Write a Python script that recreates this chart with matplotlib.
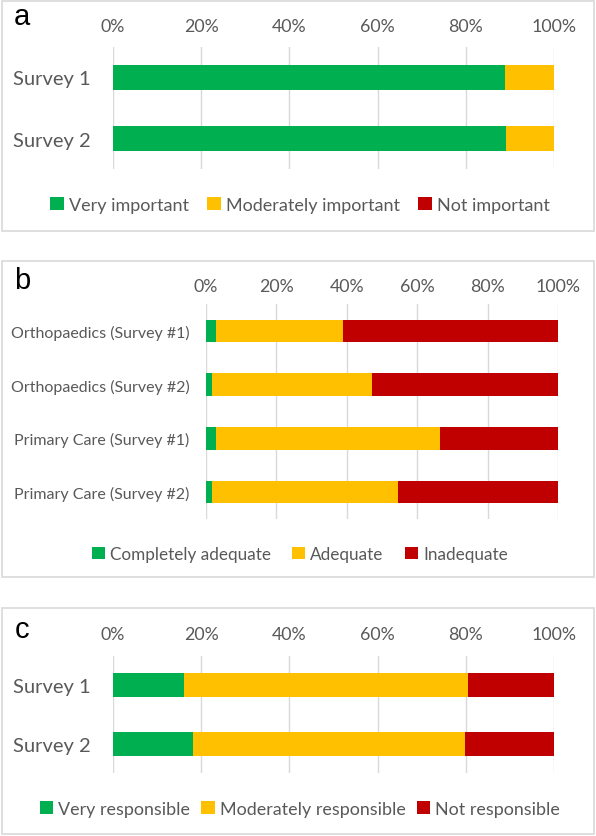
import matplotlib
matplotlib.use("Agg")
import matplotlib.pyplot as plt
from matplotlib.patches import Rectangle, Patch
import numpy as np

W, H = 596, 837
DPI = 100

# ---------------- data ----------------
a_categories = ["Survey 1", "Survey 2"]
a_series = ["Very important", "Moderately important", "Not important"]
a_very = [88.8, 89.1]
a_moderate = [11.2, 10.9]
a_not = [0.0, 0.0]

b_categories = ["Orthopaedics (Survey #1)", "Orthopaedics (Survey #2)",
                "Primary Care (Survey #1)", "Primary Care (Survey #2)"]
b_series = ["Completely adequate", "Adequate", "Inadequate"]
b_complete = [2.7, 1.7, 2.7, 1.7]
b_adequate = [36.1, 45.6, 63.9, 52.8]
b_inadequate = [61.2, 52.7, 33.4, 45.5]

c_categories = ["Survey 1", "Survey 2"]
c_series = ["Very responsible", "Moderately responsible", "Not responsible"]
c_very = [16.0, 18.2]
c_moderate = [64.6, 61.7]
c_not = [19.4, 20.1]

tick_values = [0, 20, 40, 60, 80, 100]
tick_labels = ["0%", "20%", "40%", "60%", "80%", "100%"]

colors = ["#00B050", "#FFC000", "#C00000"]
TEXT = "#595959"
GRID = "#D9D9D9"
FONT = ["Lato", "DejaVu Sans"]

fig = plt.figure(figsize=(W / DPI, H / DPI), dpi=DPI)


def px_axes(x0, y0, x1, y1):
    return fig.add_axes([x0 / W, 1 - y1 / H, (x1 - x0) / W, (y1 - y0) / H])


def box(x0, y0, x1, y1):
    fig.patches.append(Rectangle((x0 / W, 1 - y1 / H), (x1 - x0) / W, (y1 - y0) / H,
                                 transform=fig.transFigure, fill=False,
                                 edgecolor=GRID, linewidth=1.2))


def panel(ax, cats, series_vals, series_names, bar_h, ylab_size, ylab_pad, tick_pad,
          legend_y, legend_size, colspace, letter, letter_y):
    n = len(cats)
    y = np.arange(n)
    left = np.zeros(n)
    for vals, col, name in zip(series_vals, colors, series_names):
        ax.barh(y, vals, left=left, height=bar_h, color=col, label=name, zorder=3)
        left = left + np.array(vals)
    ax.set_xlim(0, 100)
    ax.set_ylim(n - 0.5, -0.5)
    ax.set_yticks(y)
    ax.set_yticklabels(cats)
    ax.set_xticks(tick_values)
    ax.set_xticklabels(tick_labels)
    ax.xaxis.tick_top()
    ax.tick_params(axis="x", length=0, pad=tick_pad, labelsize=12.8, labelcolor=TEXT)
    ax.tick_params(axis="y", length=0, pad=ylab_pad, labelsize=ylab_size, labelcolor=TEXT)
    for lab in ax.get_xticklabels() + ax.get_yticklabels():
        lab.set_family(FONT)
    for s in ax.spines.values():
        s.set_visible(False)
    ax.grid(axis="x", color=GRID, linewidth=1.0, zorder=0)
    ax.set_axisbelow(True)
    handles = [Patch(facecolor=c, edgecolor="none") for c in colors]
    fig.legend(handles, series_names, loc="center", ncol=3,
               bbox_to_anchor=(300 / W, 1 - legend_y / H), frameon=False,
               prop={"family": FONT, "size": legend_size}, labelcolor=TEXT,
               handlelength=0.75, handleheight=0.75, handletextpad=0.3,
               columnspacing=colspace)
    fig.text(22 / W, 1 - letter_y / H, letter, family=["Liberation Sans", "DejaVu Sans"],
             fontsize=21, color="black", ha="center", va="center")


# panel a
box(2, 2, 594, 232)
ax_a = px_axes(113, 48, 554, 170)
panel(ax_a, a_categories, [a_very, a_moderate, a_not], a_series, 0.405,
      14.5, 16, 9.5, 206, 13, 1.0, "a", 17)

# panel b
box(2, 262, 594, 578)
ax_b = px_axes(206, 305, 558, 520)
panel(ax_b, b_categories, [b_complete, b_adequate, b_inadequate], b_series, 0.42,
      11.5, 12, 7.0, 555, 12.3, 1.25, "b", 281)

# panel c
box(2, 609, 594, 835)
ax_c = px_axes(113, 657, 554, 774)
panel(ax_c, c_categories, [c_very, c_moderate, c_not], c_series, 0.41,
      14.5, 16, 10.0, 810, 12.9, 0.6, "c", 630)

fig.savefig("out.png", dpi=DPI)
